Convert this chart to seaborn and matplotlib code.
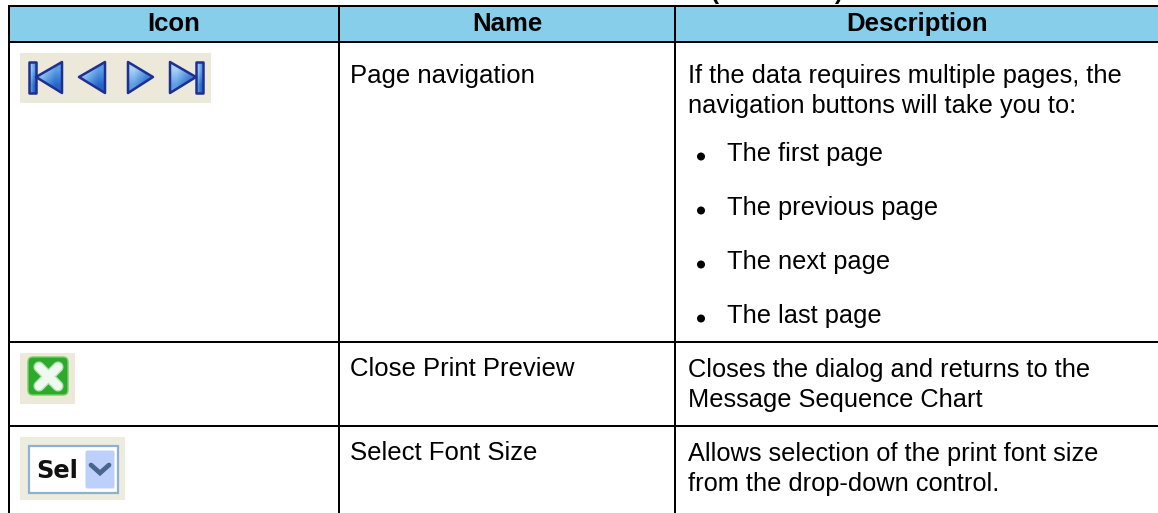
# -*- coding: utf-8 -*-
import numpy as np
import matplotlib
matplotlib.use('Agg')
import matplotlib.pyplot as plt
from matplotlib.colors import ListedColormap
from matplotlib.patches import Polygon, Rectangle, FancyBboxPatch, Circle
import seaborn as sns

#%% table content

continued = '(continued)'
headers = ['Icon', 'Name', 'Description']
names = ['Page navigation', 'Close Print Preview', 'Select Font Size']
nav_text = ['If the data requires multiple pages, the',
            'navigation buttons will take you to:']
nav_bullets = ['The first page', 'The previous page', 'The next page', 'The last page']
close_text = ['Closes the dialog and returns to the', 'Message Sequence Chart']
font_text = ['Allows selection of the print font size', 'from the drop-down control.']
sel_label = 'Sel'

#%% layout, in pixels of the picture

W, H = 1158, 513
col_edges = [9, 339, 675, 1160]
row_edges = [6, 42, 342, 426]
name_x, desc_x, bullet_x, bullet_text_x = 350, 688, 701, 727
name_y = [82.5, 376.5, 460.5]
nav_y = [82.5, 112.5]
bullet_y = [161.5, 215.5, 269.5, 323.5]
close_y = [376.5, 407.5]
font_y = [460.5, 491.5]
fs = 18.5
fs_desc = 18.3
line_px = 2.0 * 72 / 100

sky = '#87CEEB'
beige = '#ECE8DA'
navy = '#1F2F8F'
tri_colors = [[[0.66, 0.82, 0.96], [0.36, 0.62, 0.90]],
              [[0.36, 0.62, 0.90], [0.14, 0.40, 0.78]]]

sns.set_theme(style='white')
plt.rcParams['font.family'] = ['Liberation Sans', 'DejaVu Sans']

fig = plt.figure(figsize=(W / 100, H / 100), dpi=100)

#%% header cells

for i in range(3):
    left, right = col_edges[i], col_edges[i + 1]
    top, bottom = row_edges[0], row_edges[1]
    hax = fig.add_axes([left / W, 1 - bottom / H, (right - left) / W, (bottom - top) / H])
    sns.heatmap(np.array([[1.0]]), cmap=ListedColormap([sky]), cbar=False, ax=hax,
                annot=np.array([[headers[i]]]), fmt='', xticklabels=False, yticklabels=False,
                annot_kws={'fontsize': fs, 'fontweight': 'bold', 'color': 'black'})

#%% main layer

ax = fig.add_axes([0, 0, 1, 1])
ax.patch.set_alpha(0)
ax.set_axis_off()

ax.text(777, -1.5, continued, fontsize=17.6, fontweight='bold', ha='center', va='baseline',
        color='black', clip_on=False)

for y in row_edges:
    ax.hlines(y, col_edges[0] - 1, W, color='black', lw=line_px)
for x in col_edges[:3]:
    ax.vlines(x, row_edges[0] - 1, H, color='black', lw=line_px)

for name, y in zip(names, name_y):
    ax.text(name_x, y, name, fontsize=fs, va='baseline', color='black')
for lines, ys in [(nav_text, nav_y), (close_text, close_y), (font_text, font_y)]:
    for s, y in zip(lines, ys):
        ax.text(desc_x, y, s, fontsize=fs_desc, va='baseline', color='black')
for s, y in zip(nav_bullets, bullet_y):
    ax.add_patch(Circle((bullet_x, y - 5), 4, color='black', lw=0))
    ax.text(bullet_text_x, y, s, fontsize=fs_desc, va='baseline', color='black')

#%% page navigation icon


def gradient_shape(patch, box):
    # fill a patch with a soft blue gradient, then outline it
    ax.add_patch(patch)
    im = ax.imshow(tri_colors, extent=box, interpolation='bilinear', aspect='auto', zorder=3)
    im.set_clip_path(patch)
    ax.add_patch(Polygon(patch.get_xy(), closed=True, fill=False, ec=navy, lw=1.8,
                         joinstyle='round', zorder=4))


ax.add_patch(Rectangle((20, 53), 191, 50, color=beige, lw=0))
gradient_shape(Polygon([(29, 62), (36, 62), (36, 93), (29, 93)], closed=True, fc='none', ec='none'),
               (29, 36, 93, 62))
gradient_shape(Polygon([(36, 77), (62, 62), (62, 93)], closed=True, fc='none', ec='none'),
               (36, 62, 93, 62))
gradient_shape(Polygon([(79, 77), (105, 62), (105, 93)], closed=True, fc='none', ec='none'),
               (79, 105, 93, 62))
gradient_shape(Polygon([(128, 62), (128, 93), (153, 77)], closed=True, fc='none', ec='none'),
               (128, 153, 93, 62))
gradient_shape(Polygon([(170, 62), (170, 93), (196, 77)], closed=True, fc='none', ec='none'),
               (170, 196, 93, 62))
gradient_shape(Polygon([(196, 62), (203, 62), (203, 93), (196, 93)], closed=True, fc='none', ec='none'),
               (196, 203, 93, 62))

#%% close icon

ax.add_patch(Rectangle((20, 353), 55, 51, color=beige, lw=0))
ax.add_patch(FancyBboxPatch((32, 361), 32, 30, boxstyle='round,pad=4,rounding_size=5',
                            fc='#2BAA2E', ec='#7BCF60', lw=1.0))
for p, q in [((39, 367), (58, 386)), ((58, 367), (39, 386))]:
    ax.plot([p[0], q[0]], [p[1], q[1]], color='#B4E2B0', lw=8.0, solid_capstyle='round')
for p, q in [((39, 367), (58, 386)), ((58, 367), (39, 386))]:
    ax.plot([p[0], q[0]], [p[1], q[1]], color='#F0F8F2', lw=6.0, solid_capstyle='round')

#%% font size icon

ax.add_patch(Rectangle((20, 437), 105, 63, color='#ECEDDE', lw=0))
ax.add_patch(Rectangle((29, 446), 89, 47, fc='white', ec='#8FB0D0', lw=1.6))
ax.add_patch(FancyBboxPatch((86, 451), 28, 37, boxstyle='round,pad=0.5,rounding_size=2',
                            fc='#BDD0FA', ec='none'))
ax.plot([91, 100, 109], [465, 473, 465], color='#47658F', lw=3.4, solid_joinstyle='miter')
ax.text(36.5, 478, sel_label, fontsize=17.4, fontweight='bold', family='DejaVu Sans',
        va='baseline', color='#111111')

ax.set_xlim(0, W)
ax.set_ylim(H, 0)

fig.savefig('out.png', dpi=100)
